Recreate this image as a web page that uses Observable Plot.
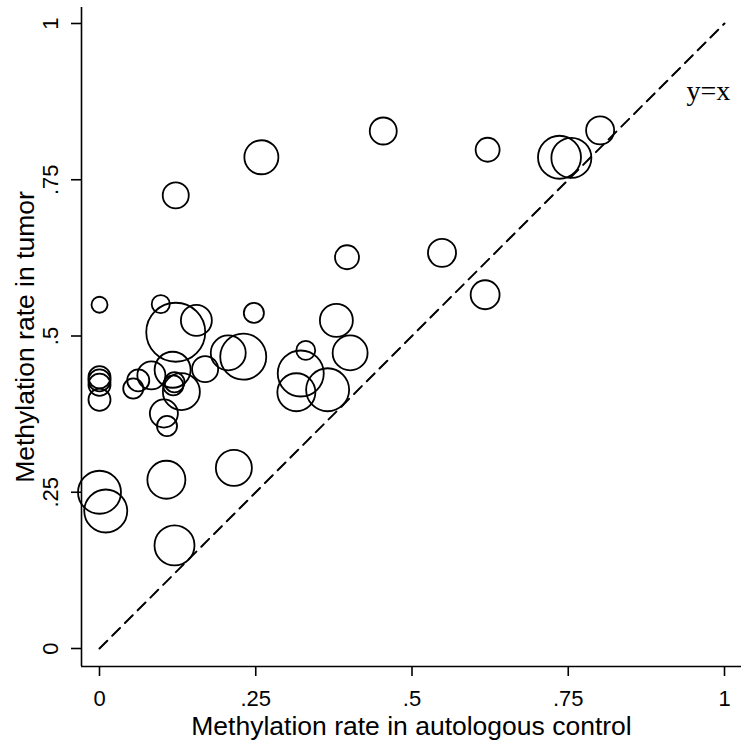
<!DOCTYPE html>
<html>
<head>
<meta charset="utf-8">
<script src="https://cdn.jsdelivr.net/npm/d3@7"></script>
<script src="https://cdn.jsdelivr.net/npm/@observablehq/plot@0.6"></script>
<style>
  body { margin: 0; background: #fff; }
</style>
</head>
<body>
<div id="chart"></div>
<script>
// Methylation rate in autologous control (x) for each sample
const controlRate = [0.000, 0.098, 0.122, 0.155, 0.247, 0.206, 0.230,
  0.000, 0.000, 0.000, 0.000,
  0.054, 0.062, 0.083, 0.117, 0.120, 0.118, 0.131, 0.169, 0.103, 0.108,
  0.330, 0.322, 0.315, 0.365, 0.379, 0.401,
  0.000, 0.010, 0.107, 0.215, 0.120,
  0.259, 0.454, 0.621, 0.396, 0.548, 0.617, 0.801, 0.736, 0.755, 0.122];
// Methylation rate in tumor (y)
const tumorRate = [0.550, 0.551, 0.506, 0.525, 0.537, 0.473, 0.467,
  0.434, 0.429, 0.422, 0.398,
  0.416, 0.429, 0.437, 0.446, 0.426, 0.421, 0.411, 0.447, 0.376, 0.356,
  0.477, 0.440, 0.410, 0.414, 0.525, 0.473,
  0.250, 0.220, 0.270, 0.289, 0.165,
  0.786, 0.828, 0.798, 0.626, 0.633, 0.566, 0.829, 0.786, 0.785, 0.725];
// Marker weight (circle area)
const weight = [4.0, 5.1, 54.4, 15.0, 6.3, 19.1, 33.1,
  7.6, 7.6, 7.6, 7.6,
  6.3, 7.6, 12.3, 20.3, 6.3, 6.3, 21.4, 10.6, 12.3, 6.3,
  5.6, 33.1, 22.6, 28.9, 17.0, 19.1,
  28.9, 28.9, 22.6, 20.3, 25.0,
  18.1, 11.4, 9.0, 9.0, 12.3, 13.1, 12.3, 28.9, 25.0, 10.6];

const xTicks = [0, 0.25, 0.5, 0.75, 1];
const yTicks = [0, 0.25, 0.5, 0.75, 1];
const tickLabels = ["0", ".25", ".5", ".75", "1"];
const xTitle = "Methylation rate in autologous control";
const yTitle = "Methylation rate in tumor";
const refLine = [0, 1];
const refLabel = "y=x";

const xDomain = [-0.0288, 1.0272];
const yDomain = [-0.0288, 1.0256];

const points = controlRate.map((x, i) => ({x, y: tumorRate[i], w: weight[i]}));
const refPoints = refLine.map(v => ({x: v, y: v}));
const fmt = d => tickLabels[xTicks.indexOf(d)];

const chart = Plot.plot({
  width: 748,
  height: 747,
  marginLeft: 81,
  marginRight: 7,
  marginTop: 7,
  marginBottom: 81,
  style: {fontFamily: "'Liberation Sans', Arial, sans-serif", background: "white", color: "black"},
  x: {domain: xDomain},
  y: {domain: yDomain},
  r: {type: "sqrt", domain: [0, 100], range: [0, 40]},
  marks: [
    Plot.ruleX([xDomain[0]], {stroke: "black", strokeWidth: 1.6}),
    Plot.ruleY([yDomain[0]], {stroke: "black", strokeWidth: 1.6}),
    Plot.axisX({ticks: xTicks, tickFormat: fmt, tickSize: 10, tickPadding: 14, fontSize: 22, label: null, strokeWidth: 1.6}),
    Plot.axisY({ticks: yTicks, tickFormat: fmt, tickSize: 10, tickRotate: -90, tickPadding: 14, fontSize: 22, label: null, strokeWidth: 1.6}),
    Plot.line(refPoints, {x: "x", y: "y", stroke: "black", strokeWidth: 2, strokeDasharray: "11,7"}),
    Plot.dot(points, {x: "x", y: "y", r: "w", stroke: "black", strokeWidth: 1.8, fill: "none"}),
    Plot.text([refLabel], {x: 0.939, y: 0.877, text: d => d, textAnchor: "start", lineAnchor: "bottom",
      fontFamily: "'Liberation Serif', 'Times New Roman', serif", fontSize: 28, fill: "black"}),
    Plot.text([xTitle], {frameAnchor: "bottom", dy: 68, textAnchor: "middle", lineAnchor: "bottom", fontSize: 26.5, text: d => d, fill: "black"}),
    Plot.text([yTitle], {frameAnchor: "left", dx: -48, rotate: -90, textAnchor: "middle", lineAnchor: "bottom", fontSize: 26.5, text: d => d, fill: "black"})
  ]
});
document.getElementById("chart").appendChild(chart);
</script>
</body>
</html>
